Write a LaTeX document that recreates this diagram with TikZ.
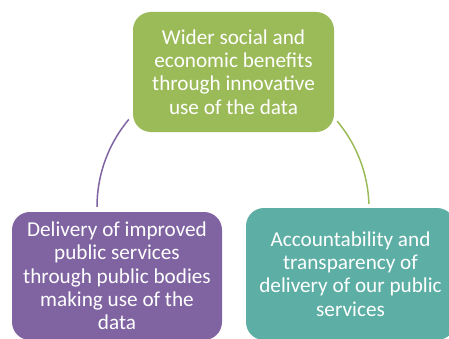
\documentclass[tikz,border=0pt]{standalone}
\usepackage{fontspec}
\setmainfont{Carlito}
\definecolor{boxgreen}{HTML}{9BBB59}
\definecolor{boxpurple}{HTML}{8064A2}
\definecolor{boxteal}{HTML}{5DAFA5}
\begin{document}
\begin{tikzpicture}[x=1pt,y=1pt,
    box/.style={rounded corners=18pt,text=white,align=center,inner sep=0pt,font=\fontsize{21.2}{23.3}\selectfont},
    link/.style={line width=1.5pt}]
      \useasboundingbox (0,0) rectangle (449,338);
      \clip (0,0) rectangle (449,338);
      \node[box,fill=boxgreen,minimum width=201,minimum height=120] (benefit) at (233.5,266) {Wider social and\\economic benefits\\through innovative\\use of the data};
      \node[box,fill=boxpurple,minimum width=210,minimum height=128] (delivery) at (117,62) {Delivery of improved\\public services\\through public bodies\\making use of the\\data};
      \node[box,fill=boxteal,minimum width=209,minimum height=132] (account) at (350.5,64) {Accountability and\\transparency of\\delivery of our public\\services};
      \draw[link,boxpurple] ([shift={(-20,5)}]delivery.north) arc[start angle=180,end angle=140,radius=136];
      \draw[link,boxgreen] ([shift={(3,11)}]benefit.south east) arc[start angle=40,end angle=2,radius=136];
    \end{tikzpicture}
\end{document}
